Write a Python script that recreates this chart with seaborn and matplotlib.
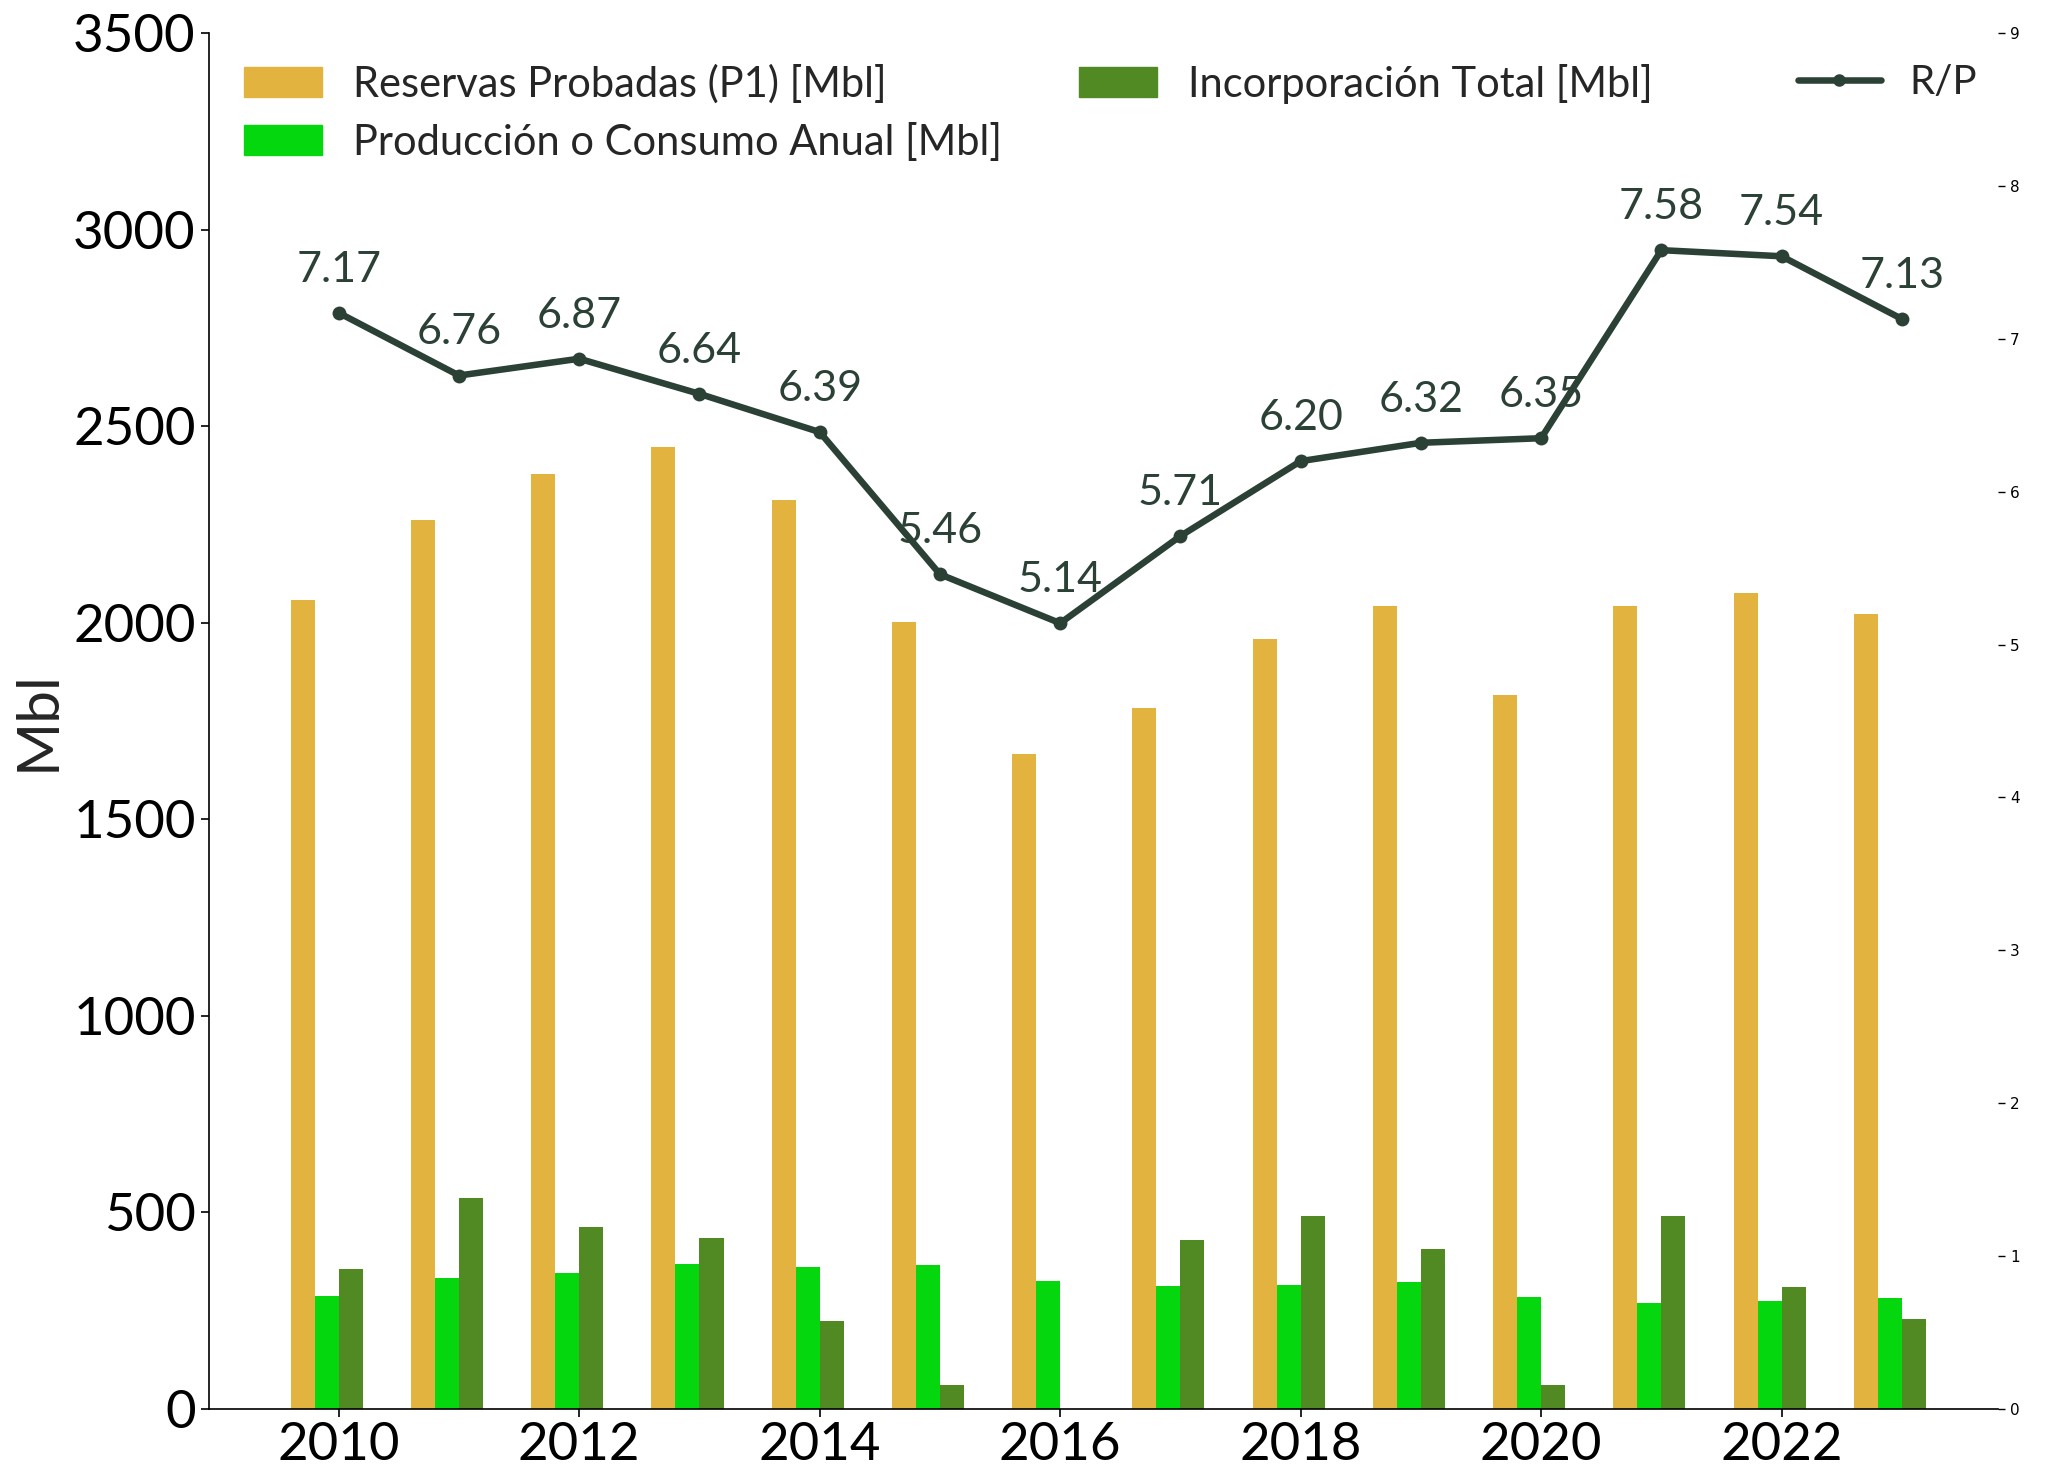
import numpy as np
import pandas as pd
import matplotlib
matplotlib.use("Agg")
import matplotlib.pyplot as plt
import seaborn as sns
from matplotlib.patches import Patch
from matplotlib.lines import Line2D

years = [2010, 2011, 2012, 2013, 2014, 2015, 2016, 2017, 2018, 2019, 2020, 2021, 2022, 2023]
reservas = [2059, 2261, 2378, 2447, 2311, 2002, 1667, 1783, 1959, 2042, 1816, 2042, 2075, 2022]
produccion = [287, 333, 346, 368, 361, 366, 325, 312, 315, 322, 286, 269, 275, 283]
incorporacion = [357, 536, 464, 436, 223, 60, 0, 430, 492, 407, 60, 492, 310, 229]
rp = [7.17, 6.76, 6.87, 6.64, 6.39, 5.46, 5.14, 5.71, 6.20, 6.32, 6.35, 7.58, 7.54, 7.13]

lbl_res = "Reservas Probadas (P1) [Mbl]"
lbl_prod = "Producción o Consumo Anual [Mbl]"
lbl_inc = "Incorporación Total [Mbl]"
lbl_rp = "R/P"

c_res = "#E3B33F"
c_prod = "#05D70F"
c_inc = "#518A22"
c_line = "#2B4136"

sns.set_style("white")
plt.rcParams['font.family'] = ['Lato', 'DejaVu Sans']

fig = plt.figure(figsize=(20.48, 14.83), dpi=100)
ax = fig.add_axes([0.102, 0.0499, 0.8736, 0.9278])

yrs = np.array(years, dtype=float)
for offs, vals, col in [(-0.3, reservas, c_res), (-0.1, produccion, c_prod), (0.1, incorporacion, c_inc)]:
    sns.barplot(x=yrs + offs, y=vals, native_scale=True, width=0.2, color=col,
                saturation=1, ax=ax, errorbar=None, linewidth=0, edgecolor=col)

ax.set_xlim(2008.92, 2023.8)
ax.set_ylim(0, 3500)
ax.set_yticks(np.arange(0, 3501, 500))
ax.set_xticks([2010, 2012, 2014, 2016, 2018, 2020, 2022])
ax.set_xticklabels([str(y) for y in [2010, 2012, 2014, 2016, 2018, 2020, 2022]])
ax.tick_params(axis='both', labelsize=38, length=6, width=1.2, direction='out',
               left=True, bottom=True, colors='black')
ax.set_ylabel("Mbl", fontsize=42, labelpad=6)
ax.set_xlabel("")
for s in ['top', 'right']:
    ax.spines[s].set_visible(False)
for s in ['left', 'bottom']:
    ax.spines[s].set_color('black')
    ax.spines[s].set_linewidth(1.2)

ax2 = ax.twinx()
sns.lineplot(x=years, y=rp, ax=ax2, color=c_line, linewidth=4.7, marker='o',
             markersize=10, markeredgewidth=0)
ax2.set_ylim(0, 9)
ax2.set_yticks(range(0, 10))
ax2.set_ylabel("")
for s in ['top', 'right', 'left', 'bottom']:
    ax2.spines[s].set_visible(False)
ax2.tick_params(axis='y', labelsize=11, length=5, width=1, right=True, colors='black')
for lab in ax2.get_yticklabels():
    lab.set_fontfamily('DejaVu Sans')
ax2.set_xlim(2008.92, 2023.8)

for x, v in zip(years, rp):
    ax2.annotate(f"{v:.2f}", (x, v), xytext=(0, 31), textcoords='offset points',
                 ha='center', va='center', fontsize=31, color=c_line)

h1 = [Patch(color=c_res), Patch(color=c_prod), Patch(color=c_inc)]
leg1 = fig.legend(h1, [lbl_res, lbl_prod, lbl_inc], ncol=2, frameon=False,
                  loc='upper left', bbox_to_anchor=(0.119, 0.957), fontsize=30,
                  handlelength=1.87, handleheight=0.75, handletextpad=0.75, columnspacing=1.85,
                  labelspacing=0.45, borderpad=0, borderaxespad=0)
h2 = [Line2D([0], [0], color=c_line, linewidth=4.7, marker='o', markersize=8)]
leg2 = fig.legend(h2, [lbl_rp], frameon=False, loc='upper left',
                  bbox_to_anchor=(0.878, 0.957), fontsize=29, handlelength=2.05,
                  handletextpad=0.7, borderpad=0, borderaxespad=0)

fig.savefig("out.png", dpi=100)
